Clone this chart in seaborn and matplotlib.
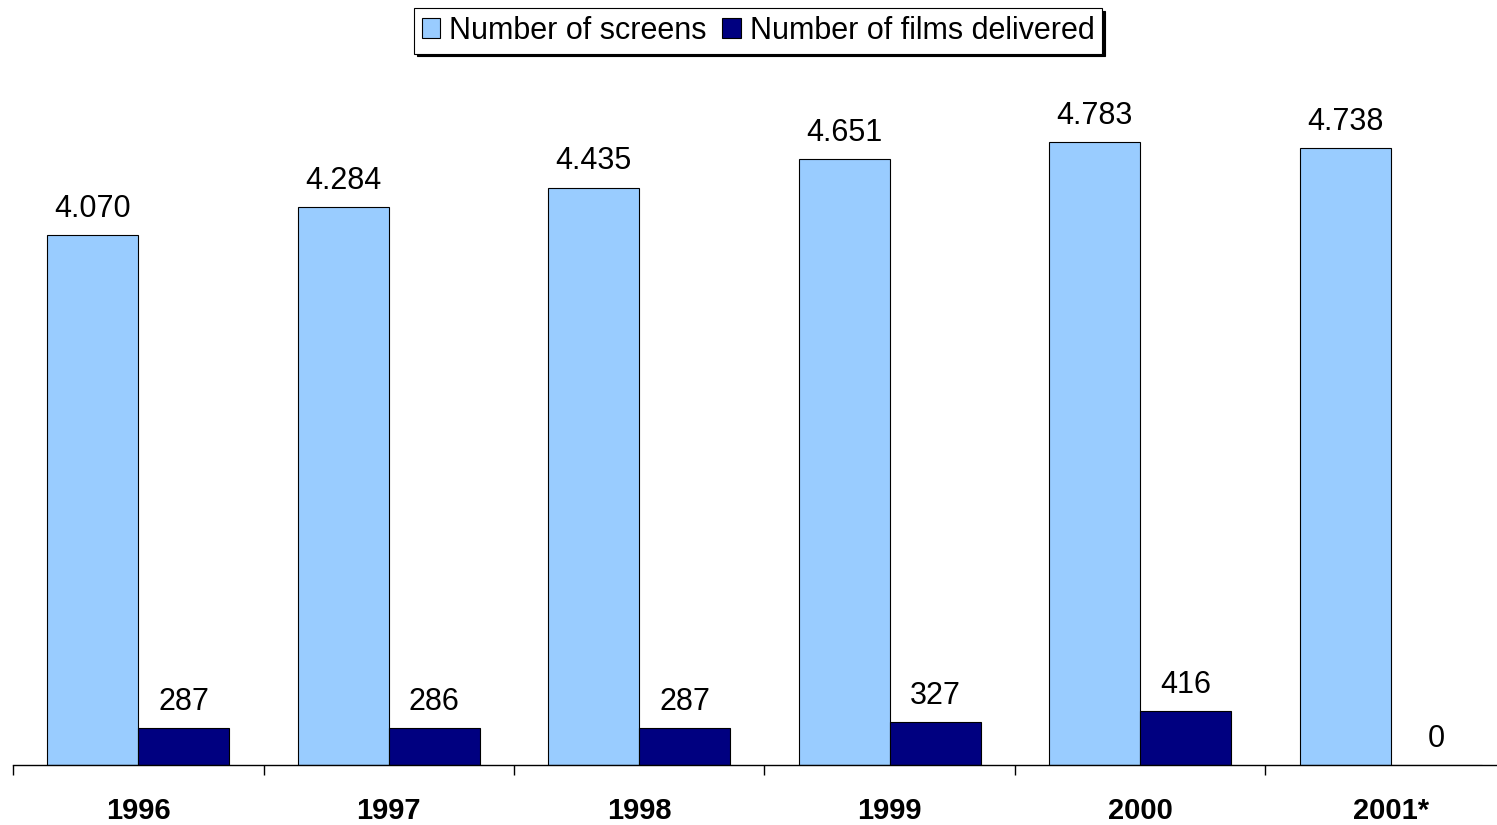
import numpy as np
import pandas as pd
import seaborn as sns
import matplotlib.pyplot as plt
from matplotlib.ticker import FixedLocator

years = ["1996", "1997", "1998", "1999", "2000", "2001*"]
screens = [4070, 4284, 4435, 4651, 4783, 4738]
films = [287, 286, 287, 327, 416, 0]
series = ["Number of screens", "Number of films delivered"]
colors = ["#99CCFF", "#000080"]

df = pd.DataFrame({
    "year": years * 2,
    "value": screens + films,
    "series": [series[0]] * len(years) + [series[1]] * len(years),
})

sns.set_style("white")
plt.rcParams["font.family"] = ["Liberation Sans", "DejaVu Sans"]
plt.rcParams["text.color"] = "black"
plt.rcParams["xtick.color"] = "black"

fig = plt.figure(figsize=(14.97, 8.25), dpi=100)
# axes placed in figure pixels: baseline at y=765, left edge at x=13
ax = fig.add_axes([13 / 1497, 60 / 825, 1484 / 1497, 651 / 825])

sns.barplot(data=df, x="year", y="value", hue="series", palette=colors,
            width=0.727, gap=0, edgecolor="black", linewidth=0.8,
            saturation=1, ax=ax)

for cont in ax.containers:
    labels = [f"{int(v):,}".replace(",", ".") for v in cont.datavalues]
    ax.bar_label(cont, labels=labels, padding=8, fontsize=22, color="black")

ax.set_ylim(0, 5000)
ax.set_xlim(-0.5, -0.5 + 1484 / 250.5)
ax.set_xlabel("")
ax.set_ylabel("")
ax.set_yticks([])

for s in ["left", "top", "right"]:
    ax.spines[s].set_visible(False)
ax.spines["bottom"].set_color("black")
ax.spines["bottom"].set_linewidth(1.0)

ax.tick_params(axis="x", which="major", length=0, pad=23, labelsize=21,
               labelcolor="black")
ax.xaxis.set_minor_locator(FixedLocator(np.arange(-0.5, len(years), 1.0)))
ax.tick_params(axis="x", which="minor", length=7, width=1, color="black",
               direction="out", bottom=True)
for lab in ax.get_xticklabels():
    lab.set_fontweight("bold")

ax.legend_.remove()
handles, lbls = ax.get_legend_handles_labels()
leg = fig.legend(handles, lbls, loc="upper center", bbox_to_anchor=(0.5065, 0.99),
                 ncol=2, fontsize=22, frameon=True, fancybox=False,
                 shadow={"color": "black", "alpha": 1}, edgecolor="black",
                 handlelength=0.6, handleheight=0.6, handletextpad=0.3,
                 columnspacing=0.5, borderpad=0.25, borderaxespad=0)
leg.get_frame().set_linewidth(0.8)
for t in leg.get_texts():
    t.set_color("black")

fig.savefig("out.png", dpi=100)
